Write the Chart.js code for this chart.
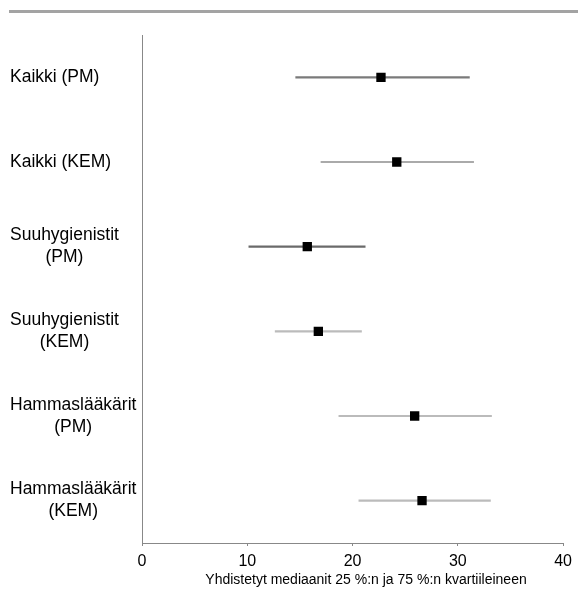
<!DOCTYPE html>
<html>
<head>
<meta charset="utf-8">
<script src="https://cdn.jsdelivr.net/npm/chart.js@4/dist/chart.umd.min.js"></script>
<style>
  body { margin: 0; background: #fff; }
  #wrap { position: relative; width: 578px; height: 592px; }
  #topbar { position: absolute; left: 9px; right: 0; top: 10px; height: 3px; background: #a3a3a3; }
</style>
</head>
<body>
<div id="wrap">
  <div id="topbar"></div>
  <canvas id="forestChart"></canvas>
</div>
<script>
const categories = [
  ['Kaikki (PM)'],
  ['Kaikki (KEM)'],
  ['Suuhygienistit', '(PM)'],
  ['Suuhygienistit', '(KEM)'],
  ['Hammaslääkärit', '(PM)'],
  ['Hammaslääkärit', '(KEM)']
];
const medians = [22.7, 24.2, 15.7, 16.75, 25.9, 26.6];
const q25 = [14.6, 17.0, 10.15, 12.65, 18.7, 20.6];
const q75 = [31.1, 31.5, 21.2, 20.85, 33.2, 33.1];
const xTicks = [0, 10, 20, 30, 40];
const axisTitle = 'Yhdistetyt mediaanit 25 %:n ja 75 %:n kvartiileineen';

const whiskerColors = ['#7a7a7a', '#aaaaaa', '#6a6a6a', '#bbbbbb', '#bbbbbb', '#bbbbbb'];

/* labels on the left: single lines left aligned, two-line labels centred on each other */
const sideLabels = {
  id: 'sideLabels',
  afterDraw(chart) {
    const ctx = chart.ctx;
    const y = chart.scales.y;
    ctx.save();
    ctx.fillStyle = '#000';
    ctx.font = '17.5px "Liberation Sans", Arial, sans-serif';
    ctx.textBaseline = 'middle';
    ctx.textAlign = 'center';
    categories.forEach((lines, i) => {
      const py = y.getPixelForValue(i);
      const w = Math.max(...lines.map(l => ctx.measureText(l).width));
      const cx = 10 + w / 2;
      const lh = 22;
      lines.forEach((l, j) => {
        ctx.fillText(l, cx, py + (j - (lines.length - 1) / 2) * lh);
      });
    });
    ctx.font = '14px "Liberation Sans", Arial, sans-serif';
    ctx.fillText(axisTitle, 366, 580);
    ctx.restore();
  }
};

new Chart(document.getElementById('forestChart'), {
  data: {
    labels: categories,
    datasets: [
      {
        type: 'bar',
        label: 'Kvartiilit',
        data: categories.map((c, i) => [q25[i], q75[i]]),
        backgroundColor: whiskerColors,
        barThickness: 1.5,
        borderWidth: 0,
        indexAxis: 'y',
        order: 2
      },
      {
        type: 'line',
        label: 'Mediaani',
        data: medians,
        indexAxis: 'y',
        showLine: false,
        pointStyle: 'rect',
        pointRadius: 6.6,
        pointBorderWidth: 0,
        pointBackgroundColor: '#000',
        order: 1
      }
    ]
  },
  options: {
    indexAxis: 'y',
    responsive: true,
    maintainAspectRatio: false,
    animation: false,
    layout: { padding: { top: 35, right: 14, left: 0, bottom: 0 } },
    plugins: {
      legend: { display: false },
      tooltip: { enabled: false }
    },
    scales: {
      x: {
        type: 'linear',
        min: 0,
        max: 40,
        afterBuildTicks: scale => { scale.ticks = xTicks.map(v => ({ value: v })); },
        afterFit: scale => { scale.height = 49; },
        grid: { drawOnChartArea: false, drawTicks: true, tickLength: 3, color: '#888' },
        border: { display: true, color: '#888', width: 1 },
        ticks: {
          color: '#000',
          padding: 6,
          maxRotation: 0,
          font: { family: '"Liberation Sans", Arial, sans-serif', size: 16 }
        }
      },
      y: {
        type: 'category',
        offset: true,
        afterFit: scale => { scale.width = 142; },
        grid: { display: false },
        border: { display: true, color: '#888', width: 1 },
        ticks: { display: false }
      }
    }
  },
  plugins: [sideLabels]
});
</script>
</body>
</html>
